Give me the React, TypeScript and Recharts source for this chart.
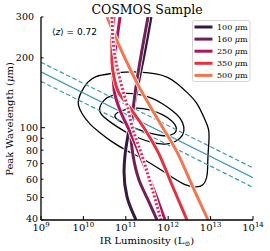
import React from 'react';
import { LineChart, Line, XAxis, YAxis } from 'recharts';

type P = { L: number; lam: number };

const bands = ['100', '160', '250', '350', '500'];
const bandColors = ['#35193e', '#701f57', '#ad1759', '#e13342', '#f37651'];
const dottedColor = '#d8305e';
const relationColor = '#3a9ab4';

const curve100: P[] = [
  { L: 3.93e11, lam: 300 }, { L: 2.84e11, lam: 216 }, { L: 2.05e11, lam: 161 },
  { L: 1.48e11, lam: 119 }, { L: 1.13e11, lam: 93 }, { L: 9.57e10, lam: 76 },
  { L: 9.08e10, lam: 64.4 }, { L: 1.07e11, lam: 50.3 }, { L: 1.74e11, lam: 40 },
];
const curve160: P[] = [
  { L: 3.34e11, lam: 300 }, { L: 2.41e11, lam: 216 }, { L: 1.84e11, lam: 161 },
  { L: 1.48e11, lam: 119 }, { L: 1.33e11, lam: 93 }, { L: 1.48e11, lam: 76 },
  { L: 2.05e11, lam: 59.5 }, { L: 3.34e11, lam: 48.8 }, { L: 5.45e11, lam: 40 },
];
const curve250: P[] = [
  { L: 7.3e10, lam: 300 }, { L: 5.9e10, lam: 227 }, { L: 5.0e10, lam: 177 },
  { L: 5.3e10, lam: 145 }, { L: 7.3e10, lam: 119 }, { L: 1.19e11, lam: 98 },
  { L: 2.16e11, lam: 76 }, { L: 4.15e11, lam: 56.6 }, { L: 8.41e11, lam: 40 },
];
const curve350: P[] = [
  { L: 5.3e10, lam: 300 }, { L: 4.7e10, lam: 239 }, { L: 4.7e10, lam: 196 },
  { L: 5.3e10, lam: 164 }, { L: 6.7e10, lam: 142.5 }, { L: 1.26e11, lam: 121.6 },
  { L: 2.7e11, lam: 99.7 }, { L: 5.45e11, lam: 80 }, { L: 1.23e12, lam: 56.6 },
  { L: 2.77e12, lam: 40 },
];
const curve500: P[] = [
  { L: 3.6e10, lam: 300 }, { L: 8.13e10, lam: 212 }, { L: 1.94e11, lam: 153 },
  { L: 5.45e11, lam: 110 }, { L: 1.53e12, lam: 80 }, { L: 3.64e12, lam: 56.6 },
  { L: 8.69e12, lam: 40 },
];
const curveDotted: P[] = [
  { L: 4.7e10, lam: 300 }, { L: 5.3e10, lam: 216 }, { L: 7.3e10, lam: 161 },
  { L: 1.07e11, lam: 125 }, { L: 1.48e11, lam: 98 }, { L: 2.41e11, lam: 76 },
  { L: 3.93e11, lam: 56.6 }, { L: 6.76e11, lam: 40 },
];

const relationMid: P[] = [{ L: 1e9, lam: 174.3 }, { L: 1e14, lam: 60.9 }];
const relationHi: P[] = [{ L: 1e9, lam: 191.5 }, { L: 1e14, lam: 67.1 }];
const relationLo: P[] = [{ L: 1e9, lam: 158.5 }, { L: 1e14, lam: 55.3 }];

const contourOuter: P[] = [
  { L: 7.0e9, lam: 128 }, { L: 8.8e9, lam: 143 }, { L: 1.25e10, lam: 158 },
  { L: 1.85e10, lam: 167 }, { L: 4.24e10, lam: 171 }, { L: 9.57e10, lam: 174 },
  { L: 2.16e11, lam: 174 }, { L: 5.45e11, lam: 171 }, { L: 9.37e11, lam: 166 },
  { L: 1.61e12, lam: 156 }, { L: 2.77e12, lam: 142 }, { L: 4.77e12, lam: 129 },
  { L: 6.9e12, lam: 111 }, { L: 9.6e12, lam: 98 }, { L: 9.0e12, lam: 84 },
  { L: 8.5e12, lam: 72.5 }, { L: 8.6e12, lam: 62 }, { L: 6.8e12, lam: 55.8 },
  { L: 4.29e12, lam: 55.3 }, { L: 2.49e12, lam: 56.5 }, { L: 1.45e12, lam: 60 },
  { L: 6.41e11, lam: 66.3 }, { L: 2.16e11, lam: 74.8 }, { L: 1.07e11, lam: 79.3 },
  { L: 4.24e10, lam: 87.8 }, { L: 2.4e10, lam: 95.5 }, { L: 1.38e10, lam: 103.5 },
  { L: 8.8e9, lam: 116 },
];
const contourMid: P[] = [
  { L: 2.2e10, lam: 119 }, { L: 3.0e10, lam: 133 }, { L: 4.99e10, lam: 138.5 },
  { L: 9.57e10, lam: 141.5 }, { L: 2.16e11, lam: 139.5 }, { L: 4.15e11, lam: 134.5 },
  { L: 7.14e11, lam: 127.5 }, { L: 1.23e12, lam: 119 }, { L: 1.95e12, lam: 110.5 },
  { L: 2.45e12, lam: 100.7 }, { L: 2.3e12, lam: 92.5 }, { L: 1.53e12, lam: 87 },
  { L: 8.87e11, lam: 84.3 }, { L: 4.15e11, lam: 86 }, { L: 1.94e11, lam: 90.3 },
  { L: 9.57e10, lam: 96 }, { L: 4.99e10, lam: 103.5 }, { L: 2.8e10, lam: 112 },
];
const contourInner: P[] = [
  { L: 4.7e10, lam: 112 }, { L: 7.3e10, lam: 118.5 }, { L: 1.65e11, lam: 122.5 },
  { L: 3.72e11, lam: 120 }, { L: 7.53e11, lam: 114 }, { L: 1.23e12, lam: 107.5 },
  { L: 1.68e12, lam: 99.7 }, { L: 1.42e12, lam: 93.5 }, { L: 8.41e11, lam: 91.5 },
  { L: 3.72e11, lam: 94.5 }, { L: 1.65e11, lam: 99.2 }, { L: 7.9e10, lam: 105.5 },
];

const xTicks = [1e9, 1e10, 1e11, 1e12, 1e13, 1e14];
const xTickExps = ['9', '10', '11', '12', '13', '14'];
const yTicks = [40, 50, 60, 70, 80, 90, 100, 200, 300];
const yTickLabels = ['40', '50', '60', '70', '80', '90', '100', '200', '300'];

const titleText = 'COSMOS Sample';
const zText = '0.72';
const xLabel = 'IR Luminosity (L';
const yLabel = 'Peak Wavelength (';

const SERIF = 'DejaVu Serif';

const XTickB = (p: any) => (
  <g>
    <line x1={p.x} x2={p.x} y1={p.y} y2={p.y - 4} stroke="#000" strokeWidth={1} />
    <text x={p.x} y={p.y + 11} textAnchor="middle" fontFamily={SERIF} fontSize={10} fill="#000">
      10<tspan dy={-4.5} fontSize={7}>{xTickExps[p.index]}</tspan>
    </text>
  </g>
);
const XTickT = (p: any) => (
  <line x1={p.x} x2={p.x} y1={p.y} y2={p.y + 4} stroke="#000" strokeWidth={1} />
);
const YTickL = (p: any) => {
  const v = yTicks[p.index];
  const len = v === 100 ? 4 : 2.5;
  return (
    <g>
      <line x1={p.x} x2={p.x + len} y1={p.y} y2={p.y} stroke="#000" strokeWidth={1} />
      <text x={v >= 200 ? p.x - 7 : p.x - 3} y={v === 40 ? p.y + 1.5 : p.y + 3.4} textAnchor="end" fontFamily={SERIF} fontSize={9.5} fill="#000">
        {yTickLabels[p.index]}
      </text>
    </g>
  );
};
const YTickR = (p: any) => {
  const v = yTicks[p.index];
  const len = v === 100 ? 4 : 2.5;
  return <line x1={p.x} x2={p.x - len} y1={p.y} y2={p.y} stroke="#000" strokeWidth={1} />;
};

export default function App() {
  const W = 270;
  const H = 251;
  const curves = [curve100, curve160, curve250, curve350, curve500];
  const axisLine = { stroke: '#000', strokeWidth: 1.3 };
  const common = { xAxisId: 'b', yAxisId: 'l', dataKey: 'lam', dot: false, isAnimationActive: false } as const;
  return (
    <div style={{ position: 'absolute', left: 0, top: 0, width: W, height: H, background: '#fff' }}>
      <LineChart width={W} height={H} margin={{ top: 17, right: 17, bottom: 0, left: 0 }}>
        <XAxis xAxisId="b" dataKey="L" type="number" scale="log" domain={[1e9, 1e14]} allowDataOverflow
          ticks={xTicks} interval={0} height={31} tickSize={0} tickMargin={0} tickLine={false}
          axisLine={axisLine} tick={(p: any) => <XTickB {...p} />} orientation="bottom" />
        <XAxis xAxisId="t" dataKey="L" type="number" scale="log" domain={[1e9, 1e14]} allowDataOverflow
          ticks={xTicks} interval={0} height={0} tickSize={0} tickMargin={0} tickLine={false}
          axisLine={axisLine} tick={(p: any) => <XTickT {...p} />} orientation="top" />
        <YAxis yAxisId="l" type="number" scale="log" domain={[40, 300]} allowDataOverflow
          ticks={yTicks} interval={0} width={41} tickSize={0} tickMargin={0} tickLine={false}
          axisLine={axisLine} tick={(p: any) => <YTickL {...p} />} orientation="left" />
        <YAxis yAxisId="r" type="number" scale="log" domain={[40, 300]} allowDataOverflow
          ticks={yTicks} interval={0} width={0} tickSize={0} tickMargin={0} tickLine={false}
          axisLine={axisLine} tick={(p: any) => <YTickR {...p} />} orientation="right" />

        <Line {...common} data={contourOuter} type="basisClosed" stroke="#000" strokeWidth={1.3} />
        <Line {...common} data={contourMid} type="basisClosed" stroke="#000" strokeWidth={1.3} />
        <Line {...common} data={contourInner} type="basisClosed" stroke="#000" strokeWidth={1.3} />

        <Line {...common} data={relationHi} type="linear" stroke={relationColor} strokeWidth={1.2} strokeDasharray="4.5 2.5" />
        <Line {...common} data={relationMid} type="linear" stroke={relationColor} strokeWidth={1.2} />
        <Line {...common} data={relationLo} type="linear" stroke={relationColor} strokeWidth={1.2} strokeDasharray="4.5 2.5" />

        {curves.map((c, i) => [
          <Line key={'w' + i} {...common} data={c} type="monotoneY" stroke="#fff" strokeWidth={4.4} />,
          <Line key={'c' + i} {...common} data={c} type="monotoneY" stroke={bandColors[i]} strokeWidth={3} />,
        ])}
        <Line {...common} data={curveDotted} type="monotoneY" stroke="#fff" strokeWidth={4.4} />
        <Line {...common} data={curveDotted} type="monotoneY" stroke={dottedColor} strokeWidth={3} strokeDasharray="2 2" />
      </LineChart>
      <svg width={W} height={H} style={{ position: 'absolute', left: 0, top: 0, pointerEvents: 'none' }}>
        <text x={147} y={14} textAnchor="middle" fontFamily={SERIF} fontSize={12.5} fill="#000">{titleText}</text>
        <text x={52} y={35} fontFamily="DejaVu Sans" fontSize={9} fill="#000">
          ⟨<tspan fontStyle="italic">z</tspan>⟩ = {zText}
        </text>
        <text x={147} y={244} textAnchor="middle" fontFamily={SERIF} fontSize={10} fill="#000">
          {xLabel}<tspan fontSize={7} dy={2}>⊙</tspan><tspan dy={-2}>)</tspan>
        </text>
        <text transform="translate(13,119) rotate(-90)" textAnchor="middle" fontFamily={SERIF} fontSize={10} fill="#000">
          {yLabel}<tspan fontStyle="italic">μ</tspan>m)
        </text>
        <rect x={192.5} y={20.5} width={57.5} height={61} rx={2} fill="#fff" fillOpacity={0.85} stroke="#cccccc" strokeWidth={0.8} />
        {bands.map((b, i) => (
          <g key={b}>
            <line x1={194.5} x2={212.5} y1={27 + i * 12.1} y2={27 + i * 12.1} stroke={bandColors[i]} strokeWidth={3} />
            <text x={217} y={27 + i * 12.1 + 3} fontFamily={SERIF} fontSize={8} fill="#000">
              {b} <tspan fontStyle="italic">μ</tspan>m
            </text>
          </g>
        ))}
      </svg>
    </div>
  );
}
